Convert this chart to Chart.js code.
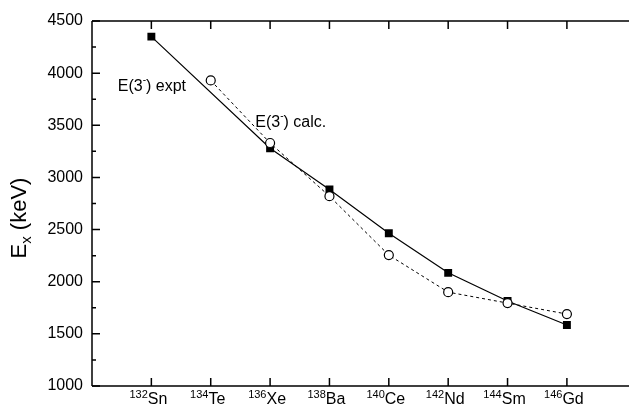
<!DOCTYPE html>
<html lang="en">
<head>
    <meta charset="UTF-8">
    <title>E(3-) expt vs calc</title>
    <script src="https://cdn.jsdelivr.net/npm/chart.js"></script>
    <style>
        body {
            margin: 0;
            padding: 0;
            background: #fff;
        }

        .chart-container {
            width: 629px;
            height: 405px;
            position: relative;
        }
    </style>
</head>
<body>

<div class="chart-container">
    <canvas id="ex3Chart"></canvas>
</div>

<script>
    // data
    const massNumbers = [132, 134, 136, 138, 140, 142, 144, 146];
    const elements = ['Sn', 'Te', 'Xe', 'Ba', 'Ce', 'Nd', 'Sm', 'Gd'];
    const exptValues = [4350, null, 3280, 2885, 2465, 2085, 1815, 1585];
    const calcValues = [null, 3930, 3330, 2820, 2255, 1900, 1795, 1690];
    const yTicks = [1000, 1500, 2000, 2500, 3000, 3500, 4000, 4500];

    const FONT = '"Liberation Sans", Arial, sans-serif';

    // labels inside the plot, anchored in data coordinates
    const notes = [
        { x: 130.87, y: 3830, text: ['E(3', '-', ') expt'] },
        { x: 135.5, y: 3480, text: ['E(3', '-', ') calc.'] }
    ];

    function toPoints(values) {
        return massNumbers.map((m, i) => ({ x: m, y: values[i] }));
    }

    // draw text pieces, with size and vertical shift per piece
    function drawPieces(ctx, pieces, x, y, align) {
        let total = 0;
        pieces.forEach(p => {
            ctx.font = p.size + 'px ' + FONT;
            p.w = ctx.measureText(p.t).width;
            total += p.w;
        });
        let cx = x;
        if (align === 'center') cx = x - total / 2;
        ctx.textAlign = 'left';
        ctx.textBaseline = 'alphabetic';
        pieces.forEach(p => {
            ctx.font = p.size + 'px ' + FONT;
            ctx.fillText(p.t, cx, y + (p.dy || 0));
            cx += p.w;
        });
    }

    const framePlugin = {
        id: 'frame',
        afterDraw(chart) {
            const ctx = chart.ctx;
            const area = chart.chartArea;
            const xs = chart.scales.x;
            const ys = chart.scales.y;
            const right = chart.width;

            ctx.save();
            ctx.strokeStyle = '#000';
            ctx.fillStyle = '#000';
            ctx.lineWidth = 1.5;

            // frame: left, top, bottom (no right side)
            ctx.beginPath();
            ctx.moveTo(area.left, area.top);
            ctx.lineTo(area.left, area.bottom);
            ctx.moveTo(area.left, area.top);
            ctx.lineTo(right, area.top);
            ctx.moveTo(area.left, area.bottom);
            ctx.lineTo(right, area.bottom);
            ctx.stroke();

            // inward ticks on the left axis
            ctx.beginPath();
            for (let v = 1000; v <= 4500; v += 250) {
                const py = ys.getPixelForValue(v);
                const len = v % 500 === 0 ? 8 : 4;
                ctx.moveTo(area.left, py);
                ctx.lineTo(area.left + len, py);
            }
            // inward ticks top and bottom at each nucleus
            massNumbers.forEach(m => {
                const px = xs.getPixelForValue(m);
                ctx.moveTo(px, area.top);
                ctx.lineTo(px, area.top + 8);
                ctx.moveTo(px, area.bottom);
                ctx.lineTo(px, area.bottom - 8);
            });
            ctx.stroke();

            // x tick labels with superscript mass number
            massNumbers.forEach((m, i) => {
                const px = xs.getPixelForValue(m) - 3;
                drawPieces(ctx, [
                    { t: String(m), size: 11, dy: -6 },
                    { t: elements[i], size: 16 }
                ], px, area.bottom + 18, 'center');
            });

            // y axis title E_x (keV)
            ctx.save();
            ctx.translate(26, 218);
            ctx.rotate(-Math.PI / 2);
            drawPieces(ctx, [
                { t: 'E', size: 22 },
                { t: 'x', size: 15, dy: 5 },
                { t: ' (keV)', size: 22 }
            ], 0, 0, 'center');
            ctx.restore();

            // in-plot labels
            notes.forEach(n => {
                drawPieces(ctx, [
                    { t: n.text[0], size: 16 },
                    { t: n.text[1], size: 10, dy: -8 },
                    { t: n.text[2], size: 16 }
                ], xs.getPixelForValue(n.x), ys.getPixelForValue(n.y), 'left');
            });

            ctx.restore();
        }
    };

    const ctx = document.getElementById('ex3Chart').getContext('2d');

    new Chart(ctx, {
        type: 'line',
        data: {
            datasets: [
                {
                    label: 'E(3-) calc.',
                    data: toPoints(calcValues),
                    borderColor: '#000',
                    borderWidth: 1,
                    borderDash: [3, 3],
                    pointStyle: 'circle',
                    pointRadius: 4.5,
                    pointBorderWidth: 1.2,
                    pointBackgroundColor: '#fff',
                    pointBorderColor: '#000',
                    spanGaps: true,
                    fill: false,
                    tension: 0,
                    order: 0
                },
                {
                    label: 'E(3-) expt',
                    data: toPoints(exptValues),
                    borderColor: '#000',
                    borderWidth: 1.2,
                    pointStyle: 'rect',
                    pointRadius: 5.6,
                    pointBorderWidth: 0,
                    pointBackgroundColor: '#000',
                    pointBorderColor: '#000',
                    spanGaps: true,
                    fill: false,
                    tension: 0,
                    order: 1
                }
            ]
        },
        options: {
            responsive: true,
            maintainAspectRatio: false,
            animation: false,
            layout: {
                padding: { top: 21, right: 0, bottom: 19, left: 0 }
            },
            plugins: {
                legend: { display: false },
                tooltip: { enabled: false }
            },
            scales: {
                x: {
                    type: 'linear',
                    display: false,
                    min: 130,
                    max: 147.9
                },
                y: {
                    type: 'linear',
                    min: 1000,
                    max: 4500,
                    afterFit(scale) {
                        scale.width = 92;
                    },
                    afterBuildTicks(scale) {
                        scale.ticks = yTicks.map(v => ({ value: v }));
                    },
                    grid: { display: false, drawTicks: false },
                    border: { display: false },
                    ticks: {
                        color: '#000',
                        padding: 9,
                        font: { family: FONT, size: 16 },
                        callback: v => String(v)
                    }
                }
            }
        },
        plugins: [framePlugin]
    });
</script>

</body>
</html>
